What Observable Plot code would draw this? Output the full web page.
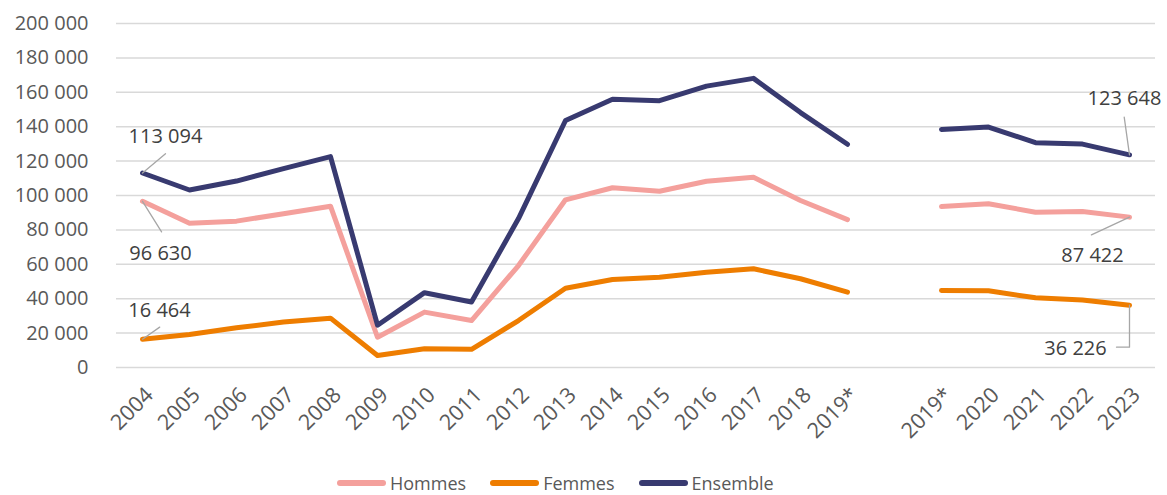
<!DOCTYPE html>
<html><head><meta charset="utf-8">
<script src="https://cdn.jsdelivr.net/npm/d3@7"></script>
<script src="https://cdn.jsdelivr.net/npm/@observablehq/plot@0.6"></script>
<style>
body{margin:0;background:#fff;font-family:"Open Sans",sans-serif;}
#chart{position:relative;width:1167px;height:495px;overflow:hidden;}
#chart svg{display:block;}
.legend{position:absolute;left:337px;top:472px;display:flex;align-items:center;color:#595959;font-size:18px;line-height:22px;height:22px;}
.legend .item{display:flex;align-items:center;margin-right:24px;}
.legend .sw{width:49px;height:6px;border-radius:3px;margin-right:4px;}
</style></head><body><div id="chart"></div>
<script>
const categories = ["2004","2005","2006","2007","2008","2009","2010","2011","2012","2013","2014","2015","2016","2017","2018","2019*","gap","2019*b","2020","2021","2022","2023"];
const tickLabels = ["2004","2005","2006","2007","2008","2009","2010","2011","2012","2013","2014","2015","2016","2017","2018","2019*","","2019*","2020","2021","2022","2023"];
const hommes   = [96630, 83900, 85100, 89400, 93800, 17600, 32200, 27300, 59300, 97500, 104500, 102500, 108300, 110600, 97100, 86000, null, 93600, 95200, 90300, 90700, 87422];
const femmes   = [16464, 19200, 23100, 26400, 28700, 7000, 10900, 10600, 27300, 46100, 51200, 52500, 55400, 57400, 51600, 43800, null, 44800, 44600, 40500, 39300, 36226];
const ensemble = [113094, 103200, 108400, 115600, 122600, 24600, 43500, 38100, 86600, 143600, 156000, 155100, 163600, 168100, 148200, 129800, null, 138400, 139800, 130700, 129900, 123648];
const seriesNames = ["Hommes", "Femmes", "Ensemble"];
const seriesColors = ["#F4A09C", "#EE7D00", "#383A70"];
const yTicks = [0, 20000, 40000, 60000, 80000, 100000, 120000, 140000, 160000, 180000, 200000];

const fmt = d3.formatLocale({decimal: ",", thousands: " ", grouping: [3], currency: ["", "€"]}).format(",");
const rows = (arr) => categories.map((c, i) => ({cat: c, value: arr[i]}));
const seriesValues = [hommes, femmes, ensemble];

const first = (arr) => [{cat: categories[0], value: arr[0]}];
const last = (arr) => [{cat: categories[categories.length - 1], value: arr[arr.length - 1]}];

const lineShape = {draw(ctx, l) { ctx.moveTo(0, 0); ctx.lineTo(0, -l); }};
const elbowShape = {draw(ctx, l) { ctx.moveTo(0, 0); ctx.lineTo(0, -l); ctx.lineTo(13, -l); }};
const leaderStyle = {x: "cat", y: "value", anchor: "start", stroke: "#a6a6a6", strokeWidth: 1.3};
const labelStyle = {x: "cat", y: "value", text: (d) => fmt(d.value), fill: "#404040", fontSize: 20, textAnchor: "middle"};

const plot = Plot.plot({
  width: 1167, height: 460,
  marginLeft: 116, marginRight: 12, marginTop: 23, marginBottom: 93,
  style: {fontFamily: "'Open Sans', sans-serif", fontSize: "20px", color: "#595959", background: "white", overflow: "visible"},
  x: {type: "point", domain: categories, padding: 0.5, align: 0.5, label: null},
  y: {domain: [0, 200000], label: null},
  marks: [
    Plot.gridY(yTicks, {stroke: "#d9d9d9", strokeOpacity: 1, strokeWidth: 1.5}),
    Plot.axisY(yTicks, {tickSize: 0, tickPadding: 28, tickFormat: fmt, label: null, fill: "#595959", fontSize: 20}),
    Plot.axisX(categories.filter((c) => c !== "gap"), {tickSize: 0, tickRotate: -45, tickPadding: 24, dx: 7,
      tickFormat: (d) => tickLabels[categories.indexOf(d)], label: null, fill: "#595959", fontSize: 21.5}),
    ...seriesValues.map((arr, k) => Plot.line(rows(arr), {x: "cat", y: "value", stroke: seriesColors[k], strokeWidth: 5, strokeLinecap: "round", strokeLinejoin: "round"})),
    Plot.vector(first(ensemble), {...leaderStyle, length: 30, rotate: 50, shape: lineShape}),
    Plot.vector(first(hommes), {...leaderStyle, length: 36, rotate: 148, shape: lineShape}),
    Plot.vector(first(femmes), {...leaderStyle, length: 21, rotate: 55, shape: lineShape}),
    Plot.vector(last(ensemble), {...leaderStyle, length: 38, rotate: -8, shape: lineShape}),
    Plot.vector(last(hommes), {...leaderStyle, length: 42, rotate: -115, shape: lineShape}),
    Plot.vector(last(femmes), {...leaderStyle, length: 42, rotate: 180, shape: elbowShape}),
    Plot.text(first(ensemble), {...labelStyle, dx: 23, dy: -36}),
    Plot.text(first(hommes), {...labelStyle, dx: 18, dy: 52}),
    Plot.text(first(femmes), {...labelStyle, dx: 17, dy: -29}),
    Plot.text(last(ensemble), {...labelStyle, dx: -5, dy: -56}),
    Plot.text(last(hommes), {...labelStyle, dx: -37, dy: 38}),
    Plot.text(last(femmes), {...labelStyle, dx: -54, dy: 43})
  ]
});
const chart = document.getElementById("chart");
chart.appendChild(plot);

const legend = document.createElement("div");
legend.className = "legend";
seriesNames.forEach((name, k) => {
  const item = document.createElement("div");
  item.className = "item";
  const sw = document.createElement("span");
  sw.className = "sw";
  sw.style.background = seriesColors[k];
  const label = document.createElement("span");
  label.textContent = name;
  item.appendChild(sw);
  item.appendChild(label);
  legend.appendChild(item);
});
chart.appendChild(legend);
</script>
</body></html>
